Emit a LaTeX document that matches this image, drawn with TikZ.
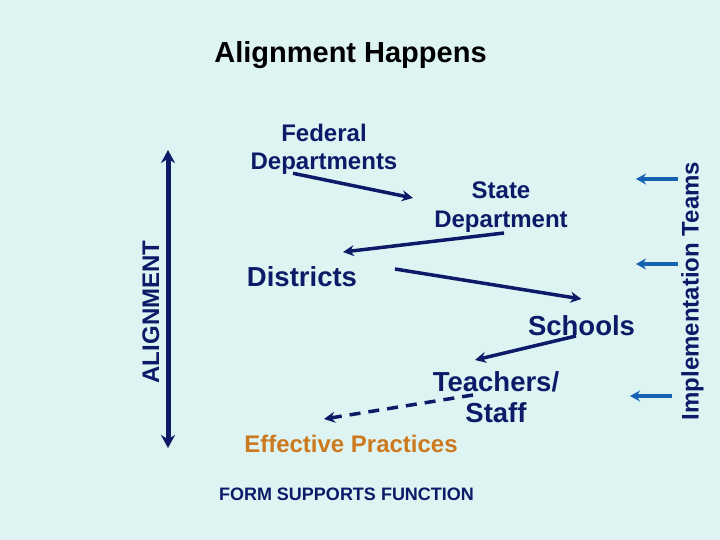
\documentclass[tikz,border=0pt]{standalone}
\usepackage{fontspec}
\setmainfont{Liberation Sans}
\usetikzlibrary{arrows.meta}

\definecolor{bgcyan}{RGB}{222,244,242}
\definecolor{navy}{RGB}{12,26,104}
\definecolor{teamblue}{RGB}{22,98,178}
\definecolor{practice}{RGB}{204,122,32}

\begin{document}
\begin{tikzpicture}[
        x=1pt, y=-1pt,
        % Estilos para niveles
        level/.style={
                text=navy,
                inner sep=0pt,
                align=center,
                font=\bfseries\fontsize{24}{28.5}\selectfont
            },
        biglevel/.style={
                text=navy,
                inner sep=0pt,
                align=center,
                font=\bfseries\fontsize{27.5}{31.5}\selectfont
            },
        % Etiquetas laterales
        sidelabel/.style={
                text=navy,
                inner sep=0pt,
                rotate=90,
                anchor=base
            },
        % Flechas
        flow/.style={
                -{Stealth[length=11pt,width=11pt]},
                line width=3.5pt,
                draw=navy
            },
        team/.style={
                -{Stealth[length=10pt,width=11pt]},
                line width=4pt,
                draw=teamblue
            },
        axis/.style={
                {Stealth[length=13pt,width=14pt]}-{Stealth[length=13pt,width=14pt]},
                line width=5pt,
                draw=navy
            }
    ]

    % Fondo
    \fill[bgcyan] (0,0) rectangle (720,540);
    \useasboundingbox (0,0) rectangle (720,540);

    % Título principal
    \node[anchor=base, inner sep=0pt, font=\bfseries\fontsize{29}{34}\selectfont] (titulo) at (350.5,62.7) {Alignment Happens};

    % Niveles
    \node[level] (federal) at (324,149.3) {Federal\\Departments};
    \node[level] (state) at (501,207) {State\\Department};
    \node[biglevel, anchor=base] (districts) at (302,286) {Districts};
    \node[biglevel, anchor=base] (schools) at (581.5,335) {Schools};
    \node[biglevel] (teachers) at (496,397) {Teachers/\\Staff};
    \node[anchor=base, inner sep=0pt, text=practice, font=\bfseries\fontsize{24}{29}\selectfont] (practices) at (351,452) {Effective Practices};

    % Lema
    \node[anchor=base, inner sep=0pt, text=navy, font=\bfseries\fontsize{18}{22}\selectfont] (lema) at (346.5,500.7) {FORM SUPPORTS FUNCTION};

    % Etiquetas laterales
    \node[sidelabel, font=\bfseries\fontsize{24}{28}\selectfont] (alignment) at (159,312) {ALIGNMENT};
    \node[sidelabel, font=\bfseries\fontsize{24}{28}\selectfont] (teams) at (698.5,291) {Implementation Teams};

    % Flechas entre niveles
    \draw[flow] ([shift={(-31,24)}]federal.center) -- ([shift={(-88,-9)}]state.center);
    \draw[flow] ([shift={(3,26)}]state.center) -- ([shift={(41,-34)}]districts.base);
    \draw[flow] ([shift={(93,-17)}]districts.base) -- ([shift={(0,-36)}]schools.base);
    \draw[flow] ([shift={(-5.5,1)}]schools.base) -- ([shift={(-21,-37)}]teachers.center);
    \draw[flow, dash pattern=on 11pt off 8pt] ([shift={(-23,-2)}]teachers.center) -- ([shift={(-27,-33)}]practices.base);

    % Eje de alineación
    \draw[axis] ([shift={(9,-162)}]alignment.base) -- ([shift={(9,136)}]alignment.base);

    % Flechas de los equipos
    \foreach \dy/\dx in {-112/0, -27/0, 105/-6}
        \draw[team] ([shift={(-20.5+\dx,\dy)}]teams.base) -- ([shift={(-62.5+\dx,\dy)}]teams.base);

\end{tikzpicture}
\end{document}
